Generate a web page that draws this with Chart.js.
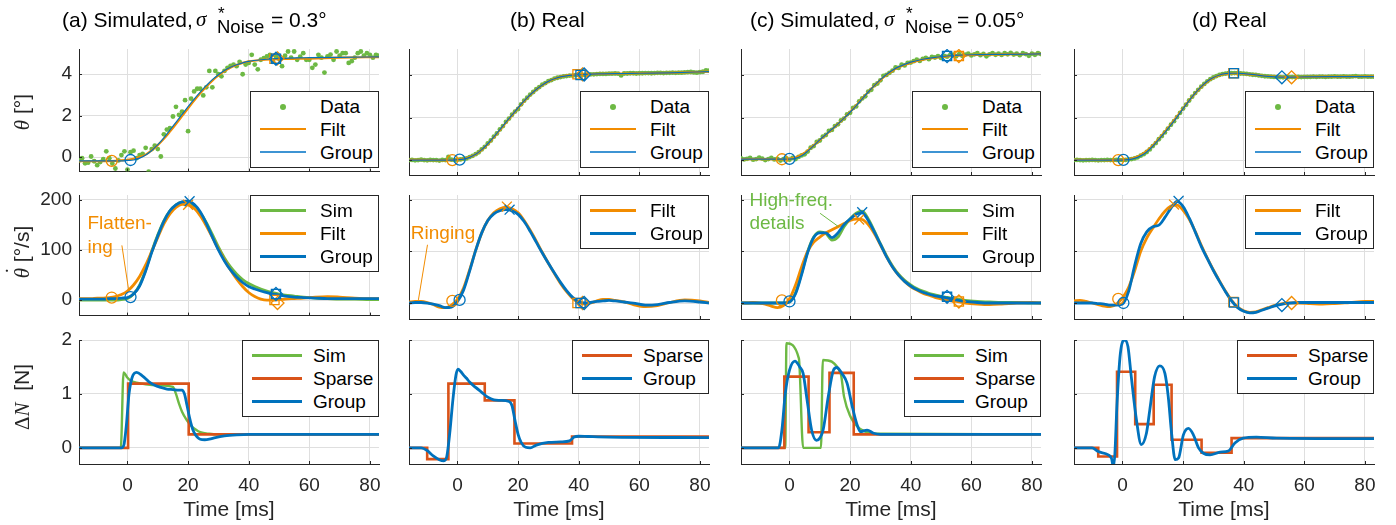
<!DOCTYPE html>
<html>
<head>
<meta charset="utf-8">
<script src="https://cdn.jsdelivr.net/npm/chart.js@4.4.1/dist/chart.umd.min.js"></script>
<style>
body{margin:0;width:1396px;height:525px;background:#fff;position:relative;overflow:hidden;font-family:"Liberation Sans",Arial,sans-serif;}
canvas{position:absolute;}
.t{position:absolute;white-space:nowrap;color:#000;font-size:21px;line-height:21px;z-index:3;}
.ser{font-family:"Liberation Serif","DejaVu Serif",serif;}
.ylab{position:absolute;width:200px;height:26px;line-height:26px;text-align:center;font-size:21px;color:#262626;transform:rotate(-90deg);white-space:nowrap;z-index:3;}
.dotted{position:relative;display:inline-block;}
.dotted .ac{position:absolute;left:4px;top:-9px;font-family:"Liberation Serif","DejaVu Serif",serif;font-style:normal;}
.leg{position:absolute;border:1px solid #262626;background:#fff;box-sizing:border-box;padding:3px 0;z-index:5;}
.leg .r{position:relative;height:23px;font-size:19px;line-height:23px;color:#000;}
.leg .s{position:absolute;top:11px;}
.leg .d{position:absolute;top:8.5px;width:6px;height:6px;border-radius:50%;}
.leg .l{position:absolute;top:0;}
</style>
</head>
<body>
<script>
// ---- data (time in ms) ----
const T_MIN = -16, T_MAX = 83;
const tTicks = [0, 20, 40, 60, 80];
const thetaTicks = [0, 2, 4], rateTicks = [0, 100, 200], forceTicks = [0, 1, 2];

// row 1: angle theta [deg]
const T1 = [-16,-8,-4,-2,0,2,4,6,8,10,12,14,16,18,20,22,24,26,28,30,32,34,36,38,40,44,48,52,56,60,70,83];
const grpThA = [-0.18,-0.18,-0.18,-0.18,-0.16,-0.14,-0.05,0.1,0.32,0.6,0.93,1.3,1.68,2.06,2.44,2.8,3.14,3.45,3.74,3.98,4.18,4.34,4.46,4.55,4.62,4.7,4.75,4.77,4.79,4.8,4.82,4.84];
const filtThA = [-0.2,-0.2,-0.18,-0.16,-0.13,-0.08,0.0,0.12,0.32,0.58,0.88,1.23,1.6,1.98,2.36,2.73,3.08,3.4,3.69,3.94,4.15,4.32,4.45,4.55,4.62,4.69,4.72,4.74,4.75,4.76,4.8,4.83];
const grpThB = [0,0,0,0,0.02,0.05,0.13,0.27,0.49,0.77,1.09,1.43,1.78,2.12,2.46,2.78,3.07,3.32,3.53,3.7,3.82,3.91,3.96,3.99,4.01,4.04,4.05,4.06,4.07,4.08,4.1,4.16];
const filtThB = [0.01,0,-0.01,0,0.03,0.06,0.14,0.27,0.48,0.75,1.07,1.41,1.76,2.11,2.45,2.77,3.06,3.31,3.52,3.69,3.82,3.91,3.97,4.0,4.02,4.04,4.05,4.06,4.07,4.08,4.1,4.16];
const grpThC = [0.05,0.05,0.05,0.05,0.05,0.08,0.2,0.42,0.68,0.95,1.2,1.45,1.7,1.97,2.25,2.55,2.88,3.2,3.5,3.78,4.02,4.22,4.38,4.5,4.6,4.74,4.83,4.89,4.93,4.95,4.97,4.99];
const filtThC = [0.05,0.05,0.03,0.03,0.06,0.12,0.25,0.45,0.69,0.94,1.19,1.44,1.7,1.97,2.26,2.57,2.89,3.2,3.49,3.76,4.0,4.2,4.36,4.48,4.58,4.72,4.81,4.87,4.92,4.94,4.97,4.99];
const grpThD = [0,0,0,0,0,0.02,0.08,0.2,0.38,0.65,0.97,1.3,1.65,2.02,2.42,2.8,3.15,3.45,3.7,3.88,4.0,4.06,4.08,4.08,4.06,4.0,3.93,3.9,3.9,3.91,3.92,3.92];
const filtThD = [0.01,0,-0.01,0,0.01,0.04,0.11,0.23,0.42,0.68,0.99,1.33,1.68,2.05,2.43,2.8,3.14,3.44,3.69,3.87,3.99,4.05,4.07,4.07,4.05,4.0,3.94,3.91,3.9,3.91,3.92,3.93];

// measured samples, one per ms from T_MIN
const dataThA = [-0.16,-0.05,-0.3,-0.27,0.03,-0.2,-0.39,-0.24,-0.1,0.28,
 -0.05,-0.31,-0.55,-0.16,0.1,0.28,-0.6,0.24,0.31,-0.05,
 0.1,0.16,0.45,-0.7,0.39,0.55,0.39,0.03,1.1,1.33,
 1.4,1.96,2.43,2.04,2.2,2.75,1.25,2.82,3.17,3.3,
 3.3,2.98,3.37,4.16,3.37,4.16,4.0,3.9,4.16,4.31,
 4.4,4.47,4.39,4.6,4.0,4.47,4.55,4.94,4.47,4.24,
 4.7,4.78,4.86,4.94,4.6,4.86,4.75,4.39,4.9,5.1,
 4.8,5.1,4.7,4.85,5.02,4.7,4.7,4.31,4.47,4.94,
 4.8,4.08,4.86,4.95,4.7,5.1,4.9,5.02,5.02,4.55,
 4.63,4.8,5.02,5.1,4.9,5.02,4.94,4.8,4.94,4.9];
const dataThB = [0.0,0.01,-0.01,0.0,0.02,0.0,-0.01,0.01,0.0,0.0,
 -0.02,0.01,0.0,0.15,0.02,0.0,0.02,0.03,0.06,0.08,
 0.14,0.2,0.28,0.37,0.5,0.62,0.78,0.92,1.1,1.25,
 1.44,1.6,1.8,1.95,2.13,2.28,2.4,2.62,2.79,2.93,
 3.08,3.2,3.33,3.43,3.54,3.62,3.71,3.76,3.83,3.87,
 3.9,3.93,3.95,3.97,3.97,3.99,4.0,4.01,4.0,4.02,
 4.03,4.03,4.04,4.05,4.05,4.05,4.06,4.06,4.07,4.06,
 3.98,4.07,4.07,4.08,4.08,4.07,4.08,4.08,4.09,4.09,
 4.08,4.09,4.1,4.1,4.09,4.1,4.1,4.11,4.1,4.11,
 4.11,4.12,4.13,4.14,4.12,4.11,4.13,4.15,4.22,4.2];
const dataThC = [0.08,0.03,0.06,0.1,0.02,0.05,0.12,0.07,0.0,0.05,
 0.1,0.03,0.06,-0.02,0.04,0.08,0.02,0.1,0.05,0.15,
 0.22,0.27,0.4,0.58,0.66,0.85,0.92,1.1,1.18,1.37,
 1.42,1.6,1.68,1.86,1.95,2.15,2.22,2.45,2.52,2.76,
 2.9,3.0,3.22,3.3,3.52,3.6,3.75,3.96,4.0,4.1,
 4.2,4.35,4.33,4.48,4.45,4.57,4.58,4.65,4.72,4.66,
 4.76,4.8,4.74,4.85,4.82,4.88,4.8,4.9,4.86,4.93,
 4.95,4.88,4.98,4.9,4.96,5.0,4.92,4.97,5.02,4.93,
 4.99,4.88,4.97,5.03,4.95,5.0,4.94,5.02,4.97,5.04,
 4.96,5.0,4.93,5.02,4.98,4.9,5.0,4.95,5.02,4.98];
const dataThD = [0.0,0.01,0.0,-0.01,0.0,0.0,0.01,0.0,-0.01,0.0,
 0.0,0.01,0.0,0.0,0.01,0.0,0.0,0.01,0.03,0.05,
 0.08,0.13,0.21,0.28,0.38,0.5,0.66,0.8,0.98,1.13,
 1.3,1.48,1.66,1.83,2.02,2.22,2.42,2.6,2.8,2.98,
 3.15,3.3,3.45,3.58,3.7,3.8,3.88,3.95,4.0,4.04,
 4.06,4.08,4.08,4.09,4.08,4.07,4.06,4.05,4.03,4.01,
 4.0,3.98,3.96,3.94,3.93,3.92,3.91,3.9,3.9,3.89,
 3.9,3.9,3.9,3.9,3.91,3.9,3.91,3.91,3.91,3.92,
 3.91,3.92,3.92,3.91,3.92,3.92,3.93,3.92,3.92,3.93,
 3.92,3.92,3.93,3.95,3.92,3.92,3.93,3.92,3.92,3.92];

// row 2: angular rate [deg/s]
const T2 = [-16,-14,-12,-10,-8,-6,-4,-2,0,2,4,6,8,10,12,14,16,18,20,22,24,26,28,30,32,34,36,38,40,42,44,46,48,50,52,55,58,62,66,70,75,80,83];
const grpRateA = [2,2,2,2,2,3,3,4, 5,12,28,58,95,128,157,178,190,196,197,191,176,153,126,100,78,60,46,35,27,22,18,15,12,10,8, 6,5,4,3,3,3,3,3];
const simRateA = [0,0,0,0,0,0,0,1, 3,12,30,60,97,130,158,178,190,195,195,188,174,155,131,106,84,66,52,41,33,27,22,18,15,12,10, 8,6,4,3,2,2,1,1];
const filtRateA = [3,3,3,4,4,5,7,11, 18,30,47,70,97,125,152,172,185,191,190,183,168,148,125,102,80,60,42,27,15,7,2,0,0,1,2, 3,4,6,7,6,4,3,3];
const grpRateB = [0,1,1,0,-2,-5,-9,-8, 3,25,62,102,136,160,173,179,181,179,172,158,139,118,97,77,58,40,24,11,3,0,1,3,4,5,4, 2,0,-4,-3,1,4,2,0];
const filtRateB = [2,3,3,1,-3,-8,-9,-4, 7,29,64,102,136,160,175,183,186,183,175,160,141,120,98,77,57,38,22,9,1,-2,0,4,7,7,5, 2,-3,-7,-5,1,6,4,1];
const grpRateC = [0,0,0,0,0,0,0,0, 2,18,55,98,127,136,136,127,136,152,163,172,175,160,138,114,90,70,54,42,33,26,21,17,14,12,10, 6,3,1,0,0,0,0,0];
const simRateC = [0,0,0,0,0,0,0,0, 2,20,58,100,128,138,135,122,128,148,163,174,178,163,140,115,92,72,56,44,35,28,23,19,16,13,11, 8,5,3,2,1,1,0,0];
const filtRateC = [0,0,1,0,-2,-6,-9,-5, 8,35,70,100,118,128,136,142,148,154,160,163,162,152,135,113,90,70,54,42,32,25,19,15,11,8,5, 3,0,-2,-3,-2,0,1,0];
const grpRateD = [0,0,0,0,-1,-2,-4,-4, -2,22,72,115,138,148,151,166,184,197,187,165,138,110,86,63,42,22,4,-9,-16,-19,-18,-14,-10,-6,-3, 0,1,1,1,1,1,1,1];
const filtRateD = [4,5,3,0,-3,-6,-7,-2, 10,30,62,100,126,145,163,178,188,190,180,163,139,112,87,64,43,23,5,-8,-15,-18,-17,-13,-9,-5,-2, 0,0,-1,-2,-1,1,3,3];

// row 3: force change [N]
const grpNtA = [-16,-2,-1.2,-0.4,0.5,1.5,3,5,7,9,11,13,15,17,18,18.8,19.6,20.4,21.2,22,23,24,25.5,27,29,32,36,40,50,83];
const grpNA = [0,0,0.05,0.4,1.0,1.3,1.4,1.33,1.23,1.16,1.12,1.09,1.08,1.07,1.07,1.0,0.8,0.58,0.4,0.28,0.2,0.16,0.15,0.16,0.19,0.22,0.24,0.25,0.25,0.25];
const simNtA = [-16,-2.2,-1.3,0,1,3,6,10,15,16,17,18,19.5,21,22.5,24,27,30,83];
const simNA = [0,0,1.4,1.3,1.25,1.21,1.18,1.16,1.13,1.0,0.82,0.67,0.52,0.41,0.34,0.29,0.26,0.25,0.25];
const spNtA = [-16,0.2,0.2,20.2,20.2,83];
const spNA = [0,0,1.19,1.19,0.25,0.25];
const grpNtB = [-16,-12,-10,-8,-6,-4.5,-3.5,-2.5,-1.5,-0.5,0.2,1,2,3,4,6,8,10,12,14,17,18,19,20,21,22.5,24,26,30,34,37,38.5,40,43,50,83];
const grpNB = [0,0,-0.05,-0.15,-0.22,-0.24,-0.15,0.3,0.9,1.35,1.46,1.42,1.35,1.29,1.22,1.12,1.03,0.94,0.89,0.88,0.86,0.78,0.5,0.25,0.1,0.01,0.0,0.05,0.1,0.11,0.13,0.2,0.215,0.21,0.2,0.19];
const spNtB = [-16,-10,-10,-3,-3,9,9,18.8,18.8,37.8,37.8,83];
const spNB = [0,0,-0.21,-0.21,1.19,1.19,0.88,0.88,0.08,0.08,0.21,0.21];
const grpNtC = [-16,-3.6,-2.5,-1.4,0,1.8,3.4,4.5,5.8,7.3,8.9,10,11.1,12.8,14.5,15.6,17.3,19,20.7,22.3,23.4,25.6,27.8,30,83];
const grpNC = [0,0,0.33,1.0,1.44,1.61,1.5,1.38,0.89,0.33,0.14,0.18,0.33,0.95,1.44,1.49,1.38,1.2,0.77,0.43,0.3,0.33,0.27,0.25,0.25];
const simNtC = [-16,-1.4,-1.0,3.1,4.5,10.4,11,16.9,18,20.1,22.3,25,30,83];
const simNC = [0,0,1.94,1.66,0,0,1.63,1.38,0.95,0.58,0.4,0.3,0.26,0.25];
const spNtC = [-16,-1.7,-1.7,6.3,6.3,13.2,13.2,21.2,21.2,83];
const spNC = [0,0,1.32,1.32,0.29,0.29,1.39,1.39,0.25,0.25];
const grpNtD = [-16,-10,-8,-4.7,-3.6,-3,-2.5,-1.8,-0.7,0.7,1.8,2.9,4.6,6.2,7.9,9,10.6,12.3,14,15.1,16.2,17.4,18.5,20.1,21.8,23.4,25.1,26.7,28.9,32.2,34.9,37.1,39.8,44.2,50.8,83];
const grpND = [0,0,-0.07,-0.13,-0.2,-0.35,-0.1,0.83,1.75,2.0,1.88,1.32,0.52,0.06,0.27,0.7,1.32,1.52,1.38,0.95,0.27,-0.22,-0.19,0.24,0.36,0.24,0.0,-0.1,-0.13,-0.08,-0.06,0.09,0.18,0.2,0.18,0.17];
const spNtD = [-16,-8,-8,-1.8,-1.8,4.2,4.2,10.3,10.3,16.2,16.2,26.1,26.1,36,36,83];
const spND = [0,0,-0.16,-0.16,1.41,1.41,0.44,0.44,1.17,1.17,0.15,0.15,-0.09,-0.09,0.18,0.18];

// event markers, one entry per column (a..d)
const grpOnT = [1.0, 0.7, 0.0, 0.3], grpOnTh = [-0.14, 0.02, 0.06, 0.01], grpOnRate = [6, 6, 3, 0];
const filtOnT = [-5.2, -1.7, -2.5, -1.4], filtOnTh = [-0.18, 0.0, 0.04, 0.0], filtOnRate = [5, 4, 5, 8];
const grpPkT = [20.5, 17.2, 24, 18.5], grpPkRate = [197, 181, 176, 198];
const filtPkT = [20, 16.3, 23, 17], filtPkRate = [190, 187, 162, 191];
const grpSqT = [49, 40.6, 52, 36.8], grpSqTh = [4.75, 4.0, 4.89, 4.08], grpSqRate = [12, 0, 12, 1];
const grpDiT = [49, 41.8, 52, 52.6], grpDiTh = [4.75, 4.02, 4.89, 3.89], grpDiRate = [12, 0, 12, -4];
const filtSqT = [48.5, 39.6, 55.9, 36.6], filtSqTh = [4.75, 4.03, 4.89, 4.08], filtSqRate = [0, 0, 3, 2];
const filtDiT = [49.5, 41.3, 55.9, 55.8], filtDiTh = [4.77, 4.03, 4.89, 3.89], filtDiRate = [-6, 0, 3, 0];

// annotations (ms, deg/s of text baselines)
const flatTxt = ['Flatten-', 'ing'], flatX = -13.2, flatY = [142, 93], flatLead = [-1.85, 109, 0.33, 22];
const ringTxt = ['Ringing'], ringX = -15.4, ringY = [124], ringLead = [-9.9, 113, -12.9, 6];
const hfTxt = ['High-freq.', 'details'], hfX = -13.2, hfY = [188, 143], hfLead = [10.1, 174, 16.2, 148];

// ---- layout / style ----
const COL_L = [79, 409, 741, 1074];
const PLOT_W = 300;
const ROW_T = [49, 195, 340];
const ROW_H = [126, 124, 124];
const Y_RANGE = [[-0.7, 5.22], [-31, 209.5], [-0.3, 2]];
const C_GROUP = '#0072BD', C_FILT = '#F28C00', C_SIM = '#6DB944', C_SPARSE = '#D95319';
const C_AXIS = '#262626', C_GRID = '#DFDFDF';
const FONT = '"Liberation Sans", Arial, sans-serif';

function pts(ts, vs) { return ts.map((t, i) => ({x: t, y: vs[i]})); }
function curve(ts, vs, color, w) {
  return {data: pts(ts, vs), borderColor: color, borderWidth: w, pointRadius: 0, fill: false, cubicInterpolationMode: 'monotone'};
}
function steps(ts, vs, color, w) {
  return {data: pts(ts, vs), borderColor: color, borderWidth: w, pointRadius: 0, fill: false, tension: 0};
}
function mark(t, v, color, style, r) {
  return {data: [{x: t, y: v}], showLine: false, pointStyle: style, pointRadius: r, pointBorderColor: color,
    pointBackgroundColor: 'rgba(0,0,0,0)', pointBorderWidth: 1.3, borderColor: color};
}
function dots(vs) {
  return {data: vs.map((v, i) => ({x: T_MIN + i, y: v})), showLine: false, pointRadius: 2.4,
    pointBackgroundColor: C_SIM, pointBorderWidth: 0, borderColor: C_SIM};
}

const inTicks = {
  id: 'inTicks',
  afterDatasetsDraw(chart, args, opts) {
    const {ctx, chartArea: a, scales: {x, y}} = chart;
    ctx.save();
    ctx.strokeStyle = C_AXIS; ctx.lineWidth = 1;
    ctx.beginPath();
    x.ticks.forEach(t => { const p = Math.round(x.getPixelForValue(t.value)) + 0.5; ctx.moveTo(p, a.bottom); ctx.lineTo(p, a.bottom - 3); });
    y.ticks.forEach(t => { const p = Math.round(y.getPixelForValue(t.value)) + 0.5; ctx.moveTo(a.left, p); ctx.lineTo(a.left + 3, p); });
    ctx.stroke();
    (opts.notes || []).forEach(n => {
      ctx.fillStyle = n.color; ctx.strokeStyle = n.color; ctx.lineWidth = 1;
      ctx.font = '19px ' + FONT; ctx.textAlign = 'left'; ctx.textBaseline = 'alphabetic';
      n.lines.forEach((s, i) => ctx.fillText(s, x.getPixelForValue(n.x), y.getPixelForValue(n.ys[i])));
      ctx.beginPath();
      ctx.moveTo(x.getPixelForValue(n.lead[0]), y.getPixelForValue(n.lead[1]));
      ctx.lineTo(x.getPixelForValue(n.lead[2]), y.getPixelForValue(n.lead[3]));
      ctx.stroke();
    });
    ctx.restore();
  }
};

function panel(col, row, sets, yTicks, notes) {
  const padL = col === 0 ? 62 : 20, padR = 20, padT = 22, padB = row === 2 ? 61 : 15;
  const W = PLOT_W + padL + padR, H = ROW_H[row] + padT + padB;
  const cv = document.createElement('canvas');
  cv.width = W; cv.height = H;
  cv.style.left = (COL_L[col] - padL) + 'px'; cv.style.top = (ROW_T[row] - padT) + 'px';
  cv.style.width = W + 'px'; cv.style.height = H + 'px';
  document.body.appendChild(cv);
  new Chart(cv, {
    type: 'line',
    data: {datasets: sets},
    options: {
      responsive: false, animation: false, events: [],
      layout: {padding: {top: padT, right: padR, left: 0, bottom: 0}},
      plugins: {legend: {display: false}, tooltip: {enabled: false}, inTicks: {notes: notes || []}},
      scales: {
        x: {
          type: 'linear', min: T_MIN, max: T_MAX,
          afterBuildTicks: s => { s.ticks = tTicks.map(v => ({value: v})); },
          afterFit: s => { s.height = padB; },
          grid: {color: C_GRID, drawTicks: false},
          border: {color: C_AXIS, width: 1},
          ticks: {display: row === 2, color: C_AXIS, font: {family: FONT, size: 19}, padding: 10, maxRotation: 0},
          title: {display: row === 2, text: 'Time [ms]', color: C_AXIS, font: {family: FONT, size: 21}, padding: {top: 0, bottom: 2}}
        },
        y: {
          type: 'linear', min: Y_RANGE[row][0], max: Y_RANGE[row][1],
          afterBuildTicks: s => { s.ticks = yTicks.map(v => ({value: v})); },
          afterFit: s => { s.width = padL; },
          grid: {color: C_GRID, drawTicks: false},
          border: {color: C_AXIS, width: 1},
          ticks: {display: col === 0, color: C_AXIS, font: {family: FONT, size: 19}, padding: 7}
        }
      }
    },
    plugins: [inTicks]
  });
}

function legend(col, row, items) {
  const wide = items.some(it => it[0] === 'Sparse');
  const w = wide ? 137 : 129, lx = 9, ll = wide ? 50 : 46, tx = wide ? 70 : 69;
  const box = document.createElement('div');
  box.className = 'leg';
  box.style.left = (COL_L[col] + PLOT_W - w) + 'px';
  box.style.top = (row === 0 ? 91 : ROW_T[row]) + 'px';
  box.style.width = w + 'px';
  items.forEach(([label, color, lw]) => {
    const r = document.createElement('div'); r.className = 'r';
    const s = document.createElement('div');
    if (lw === 0) {
      s.className = 'd'; s.style.left = (lx + ll / 2 - 3) + 'px'; s.style.background = color;
    } else {
      s.className = 's'; s.style.left = lx + 'px'; s.style.width = ll + 'px';
      s.style.height = lw + 'px'; s.style.marginTop = (-lw / 2) + 'px'; s.style.background = color;
    }
    const l = document.createElement('span'); l.className = 'l'; l.style.left = tx + 'px'; l.textContent = label;
    r.appendChild(s); r.appendChild(l); box.appendChild(r);
  });
  document.body.appendChild(box);
}

// ---- build the 12 panels ----
const thG = [grpThA, grpThB, grpThC, grpThD], thF = [filtThA, filtThB, filtThC, filtThD];
const thD = [dataThA, dataThB, dataThC, dataThD];
const rG = [grpRateA, grpRateB, grpRateC, grpRateD], rF = [filtRateA, filtRateB, filtRateC, filtRateD];
const rS = [simRateA, null, simRateC, null];
const nG = [[grpNtA, grpNA], [grpNtB, grpNB], [grpNtC, grpNC], [grpNtD, grpND]];
const nP = [[spNtA, spNA], [spNtB, spNB], [spNtC, spNC], [spNtD, spND]];
const nS = [[simNtA, simNA], null, [simNtC, simNC], null];
const rateNotes = [
  [{lines: flatTxt, x: flatX, ys: flatY, lead: flatLead, color: C_FILT}],
  [{lines: ringTxt, x: ringX, ys: ringY, lead: ringLead, color: C_FILT}],
  [{lines: hfTxt, x: hfX, ys: hfY, lead: hfLead, color: C_SIM}],
  []
];

for (let c = 0; c < 4; c++) {
  // angle
  panel(c, 0, [
    mark(grpOnT[c], grpOnTh[c], C_GROUP, 'circle', 5.5),
    mark(grpSqT[c], grpSqTh[c], C_GROUP, 'rect', 6.5),
    mark(grpDiT[c], grpDiTh[c], C_GROUP, 'rectRot', 6.5),
    mark(filtOnT[c], filtOnTh[c], C_FILT, 'circle', 5.5),
    mark(filtSqT[c], filtSqTh[c], C_FILT, 'rect', 6.5),
    mark(filtDiT[c], filtDiTh[c], C_FILT, 'rectRot', 6.5),
    curve(T1, thG[c], C_GROUP, 1.2),
    curve(T1, thF[c], C_FILT, 2.2),
    dots(thD[c])
  ], thetaTicks);
  legend(c, 0, [['Data', C_SIM, 0], ['Filt', C_FILT, 2.5], ['Group', '#3D94D3', 1.5]]);

  // rate
  const rs = [
    mark(grpOnT[c], grpOnRate[c], C_GROUP, 'circle', 5.5),
    mark(grpPkT[c], grpPkRate[c], C_GROUP, 'crossRot', 7),
    mark(grpSqT[c], grpSqRate[c], C_GROUP, 'rect', 6.5),
    mark(grpDiT[c], grpDiRate[c], C_GROUP, 'rectRot', 6.5),
    mark(filtOnT[c], filtOnRate[c], C_FILT, 'circle', 5.5),
    mark(filtPkT[c], filtPkRate[c], C_FILT, 'crossRot', 7),
    mark(filtSqT[c], filtSqRate[c], C_FILT, 'rect', 6.5),
    mark(filtDiT[c], filtDiRate[c], C_FILT, 'rectRot', 6.5),
    curve(T2, rG[c], C_GROUP, 2.8),
    curve(T2, rF[c], C_FILT, 2.8)
  ];
  if (rS[c]) rs.push(curve(T2, rS[c], C_SIM, 2.8));
  panel(c, 1, rs, rateTicks, rateNotes[c]);
  legend(c, 1, (rS[c] ? [['Sim', C_SIM, 3]] : []).concat([['Filt', C_FILT, 3], ['Group', C_GROUP, 3]]));

  // force
  const ns = [curve(nG[c][0], nG[c][1], C_GROUP, 2.8), steps(nP[c][0], nP[c][1], C_SPARSE, 2.6)];
  if (nS[c]) ns.push(curve(nS[c][0], nS[c][1], C_SIM, 2.4));
  panel(c, 2, ns, forceTicks);
  legend(c, 2, (nS[c] ? [['Sim', C_SIM, 3]] : []).concat([['Sparse', C_SPARSE, 3], ['Group', C_GROUP, 3]]));
}
</script>

<div class="t" style="left:62px;top:9px;">(a) Simulated,</div>
<div class="t ser" style="left:196px;top:9px;font-style:italic;">σ</div>
<div class="t" style="left:218px;top:5px;font-size:17px;line-height:17px;">*</div>
<div class="t" style="left:217px;top:17px;font-size:18.5px;line-height:19px;">Noise</div>
<div class="t" style="left:271px;top:9px;">= 0.3°</div>

<div class="t" style="left:510px;top:9px;">(b) Real</div>

<div class="t" style="left:750px;top:9px;">(c) Simulated,</div>
<div class="t ser" style="left:884px;top:9px;font-style:italic;">σ</div>
<div class="t" style="left:906px;top:5px;font-size:17px;line-height:17px;">*</div>
<div class="t" style="left:905px;top:17px;font-size:18.5px;line-height:19px;">Noise</div>
<div class="t" style="left:957px;top:9px;">= 0.05°</div>

<div class="t" style="left:1192px;top:9px;">(d) Real</div>

<div class="ylab" style="left:-78px;top:99px;"><i class="ser">θ</i> [°]</div>
<div class="ylab" style="left:-78px;top:239px;"><span class="dotted"><i class="ser">θ</i><span class="ac">˙</span></span> [°/s]</div>
<div class="ylab" style="left:-78px;top:384px;"><span class="ser">Δ</span><i class="ser">N</i>&nbsp; [N]</div>
</body>
</html>
